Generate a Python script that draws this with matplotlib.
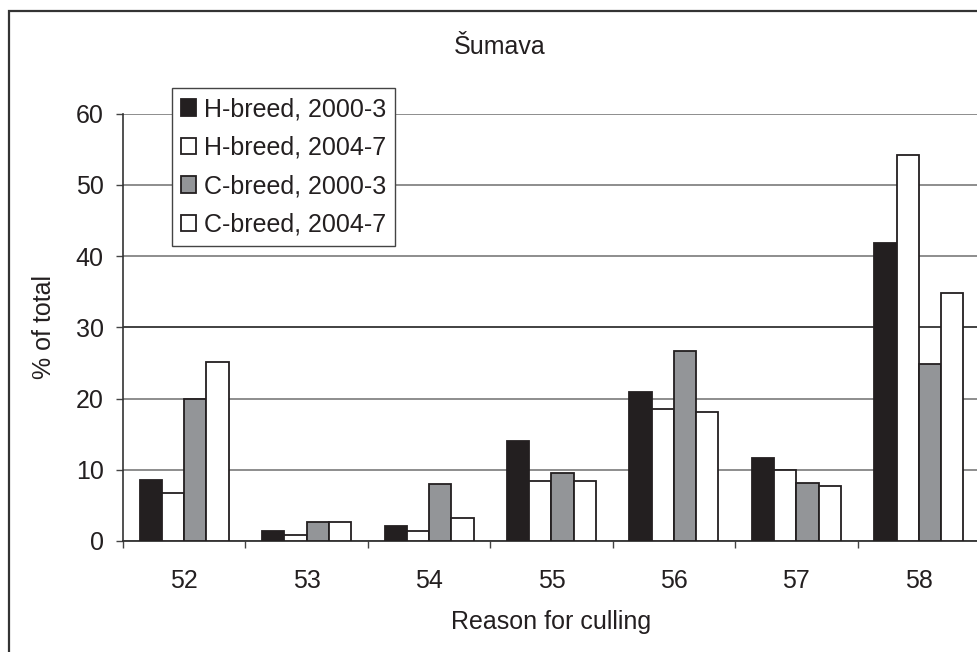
import matplotlib
matplotlib.use("Agg")
import matplotlib.pyplot as plt
import numpy as np
from matplotlib.patches import Rectangle

# Culling reasons (codes) and share of culled animals, %
categories = ["52", "53", "54", "55", "56", "57", "58"]
h_breed_2000_3 = [8.5, 1.4, 2.1, 14.1, 20.9, 11.6, 41.8]
h_breed_2004_7 = [6.8, 0.8, 1.4, 8.4, 18.5, 10.0, 54.2]
c_breed_2000_3 = [20.0, 2.7, 8.0, 9.5, 26.7, 8.2, 24.8]
c_breed_2004_7 = [25.1, 2.7, 3.2, 8.4, 18.1, 7.7, 34.8]
series_labels = ["H-breed, 2000-3", "H-breed, 2004-7",
                 "C-breed, 2000-3", "C-breed, 2004-7"]
y_ticks = [0, 10, 20, 30, 40, 50, 60]

plt.rcParams["font.family"] = ["Liberation Sans", "DejaVu Sans"]
FS = 18

W, H = 977, 652
fig = plt.figure(figsize=(W / 100, H / 100), dpi=100)
fig.patch.set_facecolor("white")

# chart-area frame (runs past the right and bottom edges)
fig.patches.append(Rectangle((9 / W, -0.2), 1.2, (H - 11) / H + 0.2,
                             transform=fig.transFigure, fill=False,
                             edgecolor="#333333", linewidth=1.6))

left, right = 123, 980
bottom_px, top_px = 541, 113.5
ax = fig.add_axes([left / W, (H - bottom_px) / H,
                   (right - left) / W, (bottom_px - top_px) / H])

series = [h_breed_2000_3, h_breed_2004_7, c_breed_2000_3, c_breed_2004_7]
colors = ["#231f20", "white", "#939598", "white"]
x = np.arange(len(categories))
w = 0.182
for k, (vals, col, lab) in enumerate(zip(series, colors, series_labels)):
    ax.bar(x + (k - 1.5) * w, vals, width=w, color=col, edgecolor="#231f20",
           linewidth=1.3, label=lab, zorder=3)

ax.set_xlim(-0.5, len(categories) - 0.5)
ax.set_ylim(0, 60)
ax.set_yticks(y_ticks)
ax.set_yticklabels([str(t) for t in y_ticks])
ax.set_xticks(x)
ax.set_xticklabels(categories)
ax.set_xticks(np.arange(-0.5, len(categories) + 0.5, 1.0), minor=True)

ax.tick_params(axis="x", which="major", length=0, pad=20, labelsize=FS,
               colors="#231f20")
ax.tick_params(axis="x", which="minor", length=5, width=1.0, direction="out",
               colors="#444444")
ax.tick_params(axis="y", which="major", length=5, width=1.0, direction="out",
               pad=9, labelsize=FS, colors="#444444", labelcolor="#231f20")

ax.grid(axis="y", color="#858585", linewidth=1.3, zorder=0)
ax.set_axisbelow(True)
for gl, t in zip(ax.get_ygridlines(), y_ticks):
    if t == 30:
        gl.set_color("#333333")

for s in ["top", "right"]:
    ax.spines[s].set_visible(False)
ax.spines["left"].set_color("#333333")
ax.spines["left"].set_linewidth(1.2)
ax.spines["bottom"].set_color("#333333")
ax.spines["bottom"].set_linewidth(1.3)
ax.patch.set_alpha(0)

ax.set_ylabel("% of total", fontsize=FS, color="#231f20")
ax.yaxis.set_label_coords((56 - left) / (right - left), 0.5)
ax.set_xlabel("Reason for culling", fontsize=FS, color="#231f20")
ax.xaxis.set_label_coords(0.5, (bottom_px - 610) / (bottom_px - top_px))

fig.text(499.5 / W, (H - 54.3) / H, "Šumava", ha="center", va="baseline",
         fontsize=FS, color="#231f20")

leg = ax.legend(loc="upper left", bbox_to_anchor=(171.7 / W, (H - 88.3) / H),
                bbox_transform=fig.transFigure, borderaxespad=0,
                fontsize=FS, frameon=True, fancybox=False, framealpha=1,
                edgecolor="#444444", handlelength=0.62, handleheight=0.62,
                handletextpad=0.32, borderpad=0.36, labelspacing=0.58)
leg.get_frame().set_linewidth(1.0)
leg.set_zorder(5)
for t in leg.get_texts():
    t.set_color("#231f20")

fig.savefig("out.png", dpi=100, facecolor="white")
